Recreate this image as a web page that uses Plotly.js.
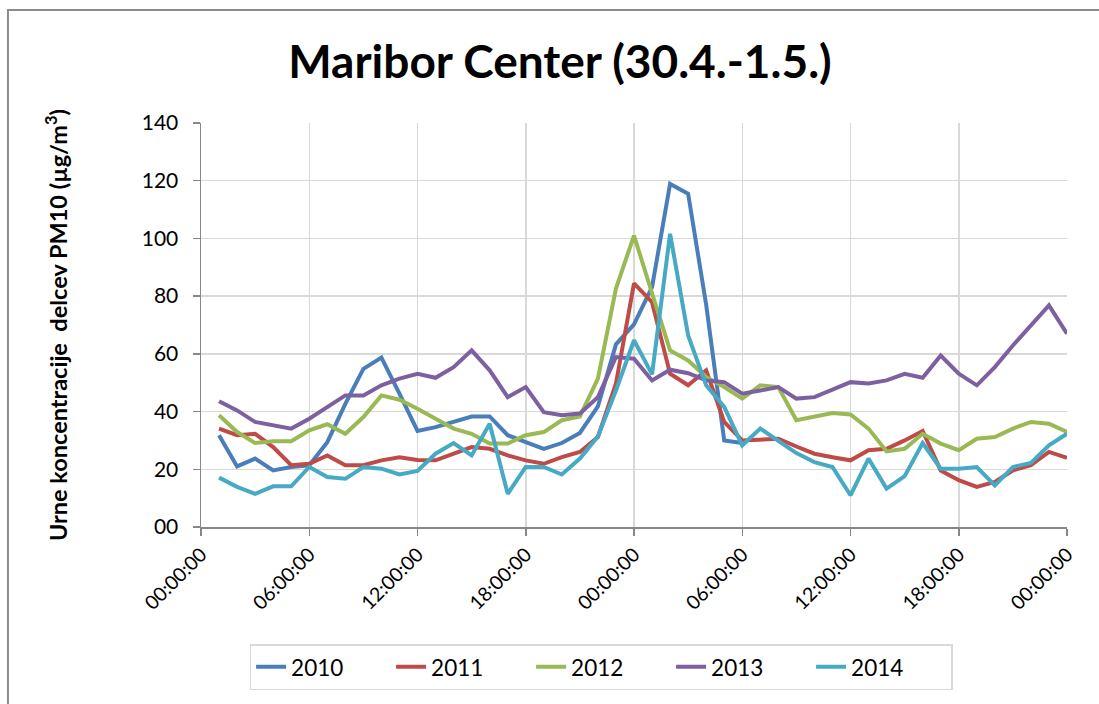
<!DOCTYPE html>
<html>
<head>
<meta charset="utf-8">
<script src="https://cdn.plot.ly/plotly-3.0.1.min.js"></script>
<style>
html,body{margin:0;padding:0;background:#fff;}
#chart{width:1099px;height:704px;}
</style>
</head>
<body>
<div id="chart"></div>
<script>
// Hour index (1..48) across the two days
const hours = [1,2,3,4,5,6,7,8,9,10,11,12,13,14,15,16,17,18,19,20,21,22,23,24,
               25,26,27,28,29,30,31,32,33,34,35,36,37,38,39,40,41,42,43,44,45,46,47,48];

const seriesNames = ["2010","2011","2012","2013","2014"];

const y2010 = [31.8,21.0,23.7,19.6,20.8,21.4,29.4,42.7,54.8,58.7,46.2,33.3,
               34.6,36.4,38.3,38.3,31.8,29.4,27.1,29.1,32.6,41.8,63.3,70.2,
               83.1,118.9,115.5,77.0,30.0,29.1,null,null,null,null,null,null,
               null,null,null,null,null,null,null,null,null,null,null,null];
const y2011 = [34.1,31.8,32.3,27.7,21.4,21.9,24.8,21.4,21.4,23.1,24.2,23.2,
               23.1,25.4,27.7,27.1,24.8,23.1,21.9,24.2,26.0,31.2,49.7,84.4,
               77.9,53.1,49.1,54.3,36.4,30.0,30.3,30.6,27.9,25.4,24.2,23.1,
               26.6,27.1,30.0,33.3,19.6,16.2,13.9,15.6,19.6,21.4,26.0,24.0];
const y2012 = [38.7,32.9,29.1,29.7,29.7,33.5,35.6,32.3,38.1,45.6,44.1,41.0,
               37.5,34.1,32.3,28.9,28.9,31.8,32.9,37.0,38.3,51.4,82.6,101.0,
               81.0,61.2,57.7,52.0,48.5,44.5,49.1,48.5,37.0,38.1,39.5,39.0,
               34.1,26.2,27.1,32.3,28.9,26.6,30.6,31.2,34.1,36.4,35.8,32.9];
const y2013 = [43.6,40.4,36.4,35.2,34.1,37.5,41.6,45.6,45.6,49.1,51.4,53.1,
               51.7,55.4,61.2,54.3,45.0,48.5,39.8,38.7,39.3,45.0,58.9,58.3,
               50.8,54.5,53.3,50.8,50.2,46.2,47.3,48.5,44.5,45.0,47.6,50.2,
               49.7,50.8,53.1,51.7,59.4,53.1,49.1,55.4,62.9,69.9,76.8,67.0];
const y2014 = [17.1,13.9,11.5,14.1,14.1,20.8,17.3,16.7,20.8,20.2,18.2,19.4,
               25.4,29.1,24.8,35.8,11.5,20.8,20.8,18.2,23.7,31.4,47.3,64.7,
               52.9,101.6,66.4,49.1,41.6,28.3,34.1,30.0,25.6,22.5,20.8,11.0,
               23.7,13.3,17.6,29.1,20.2,20.2,20.8,14.4,20.8,22.2,28.3,32.3];

const xTickVals = [0,6,12,18,24,30,36,42,48];
const xTickText = ["00:00:00","06:00:00","12:00:00","18:00:00","00:00:00",
                   "06:00:00","12:00:00","18:00:00","00:00:00"];
const yTickVals = [0,20,40,60,80,100,120,140];
const yTickText = ["00","20","40","60","80","100","120","140"];

const colors = ["#4A7EBB","#BE4B48","#98B954","#7D60A0","#46AAC5"];
const allY = [y2010,y2011,y2012,y2013,y2014];

const traces = allY.map((ys, i) => ({
  x: hours, y: ys, name: seriesNames[i], type: "scatter", mode: "lines",
  line: {color: colors[i], width: 4, shape: "linear"},
  connectgaps: false
}));

const FONT = "Lato, 'Open Sans', sans-serif";

const layout = {
  width: 1099, height: 704,
  paper_bgcolor: "#ffffff", plot_bgcolor: "#ffffff",
  margin: {l: 201, r: 32, t: 123, b: 177},
  showlegend: true,
  title: {
    text: "<b>Maribor Center (30.4.-1.5.)</b>",
    font: {family: FONT, size: 46, color: "#000"},
    x: 0.4145, xref: "paper", xanchor: "center",
    y: 0.912, yref: "container", yanchor: "middle"
  },
  xaxis: {
    range: [0, 48], tickmode: "array", tickvals: xTickVals, ticktext: xTickText,
    tickangle: -45, ticks: "outside", ticklen: 7, tickcolor: "#878787", tickwidth: 1.5,
    showline: true, linecolor: "#878787", linewidth: 1.5,
    showgrid: true, gridcolor: "#D9D9D9", gridwidth: 1.5,
    zeroline: false, fixedrange: true,
    tickfont: {family: FONT, size: 19.5, color: "#000"}
  },
  yaxis: {
    range: [0, 140], tickmode: "array", tickvals: yTickVals, ticktext: yTickText,
    ticks: "outside", ticklen: 7, tickcolor: "#878787", tickwidth: 1.5,
    showline: true, linecolor: "#878787", linewidth: 1.5,
    showgrid: true, gridcolor: "#D9D9D9", gridwidth: 1.5,
    zeroline: false, fixedrange: true,
    ticklabelstandoff: 10,
    tickfont: {family: FONT, size: 21, color: "#000"},
    title: {
      text: "<b>Urne koncentracije  delcev PM10 (µg/m<sup>3</sup>)</b>",
      font: {family: FONT, size: 23.5, color: "#000"},
      standoff: 67
    }
  },
  legend: {
    orientation: "h", x: 0.462, xanchor: "center", y: -0.29, yanchor: "top",
    bordercolor: "#D9D9D9", borderwidth: 1.5, bgcolor: "#fff",
    font: {family: FONT, size: 22.5, color: "#000"},
    entrywidth: 95, entrywidthmode: "pixels",
    traceorder: "normal"
  },
  shapes: [{
    type: "rect", xref: "paper", yref: "paper",
    x0: -0.2229, x1: 1.06, y0: -0.47, y1: 1.2797,
    line: {color: "#8C8C8C", width: 2}, fillcolor: "rgba(0,0,0,0)", layer: "below"
  }]
};

Plotly.newPlot("chart", traces, layout, {displayModeBar: false, staticPlot: true});
</script>
</body>
</html>
